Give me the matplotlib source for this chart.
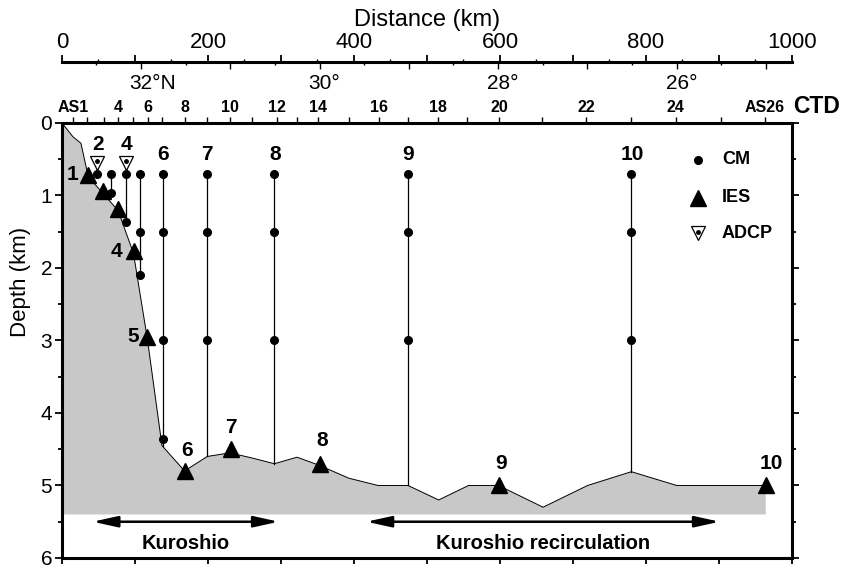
import matplotlib
matplotlib.use("Agg")
import matplotlib.pyplot as plt
import matplotlib.transforms as mtransforms
from matplotlib.ticker import FixedLocator, FuncFormatter, MultipleLocator, NullFormatter

plt.rcParams["font.family"] = ["Liberation Sans", "DejaVu Sans"]

# bottom profile along the section: distance (km), depth (km)
bathy_km = [0, 15, 26, 36, 56, 77, 98, 117, 137, 168, 199, 230, 260, 291, 322,
            352, 393, 433, 474, 516, 557, 598, 659, 720, 780, 842, 903, 964]
bathy_depth = [0.0, 0.19, 0.28, 0.74, 0.97, 1.21, 1.80, 2.98, 4.45, 4.80, 4.60,
               4.55, 4.62, 4.70, 4.61, 4.72, 4.90, 5.00, 5.00, 5.20, 5.00, 5.00,
               5.30, 5.00, 4.81, 5.00, 5.00, 5.00]

# CTD stations AS1..AS26
ctd_km = [15, 34, 57, 77, 97, 118, 137, 168, 199, 230, 260, 294, 322, 351, 393,
          434, 474, 515, 555, 599, 658, 718, 779, 841, 903, 963]
ctd_labels = ["AS1", "", "", "4", "", "6", "", "8", "", "10", "", "12", "", "14",
              "", "16", "", "18", "", "20", "", "22", "", "24", "", "AS26"]

# inverted echo sounders
ies_km = [36, 56, 77, 98, 117, 168, 231, 354, 598, 964]
ies_depth = [0.72, 0.94, 1.18, 1.77, 2.95, 4.80, 4.50, 4.70, 5.00, 5.00]

# current-meter moorings
cm_km = [48, 67, 88, 107, 138, 199, 291, 474, 780]
cm_depths = [[0.71], [0.71, 0.96], [0.71, 1.37], [0.71, 1.51, 2.10],
             [0.71, 1.51, 3.00, 4.36], [0.71, 1.51, 3.00], [0.71, 1.51, 3.00],
             [0.71, 1.51, 3.00], [0.71, 1.51, 3.00]]
mooring_top = [0.55, 0.71, 0.55, 0.71, 0.71, 0.71, 0.71, 0.71, 0.71]
mooring_bottom = [0.71, 0.96, 1.37, 2.10, 4.45, 4.60, 4.70, 5.00, 4.81]

adcp_km = [48, 88]
adcp_depth = [0.55, 0.55]

# site numbers: (label, km, depth)
site_labels = [("2", 49, 0.30), ("4", 89, 0.30), ("6", 139, 0.44), ("7", 199, 0.44),
               ("8", 292, 0.44), ("9", 474, 0.44), ("10", 781, 0.44),
               ("1", 15, 0.71), ("4", 75, 1.77), ("5", 97, 2.95),
               ("6", 172, 4.52), ("7", 231, 4.20), ("8", 356, 4.38),
               ("9", 601, 4.70), ("10", 971, 4.70)]

lat_major = [32, 31, 30, 29, 28, 27, 26, 25]
lat_minor = [32.5, 31.5, 30.5, 29.5, 28.5, 27.5, 26.5, 25.5]
lat_labels = {32: "32°N", 30: "30°", 28: "28°", 26: "26°"}


def lat_to_km(lat):
    return 108.2 + (32.0 - lat) * 122.3


fig = plt.figure(figsize=(8.43, 5.70), dpi=100)
ax = fig.add_axes([0.0735, 0.0211, 0.866, 0.7632])
ax.set_xlim(0, 1000)
ax.set_ylim(6, 0)

# sea floor
poly_x = bathy_km + [bathy_km[-1], 0]
poly_y = bathy_depth + [5.4, 5.4]
ax.fill(poly_x, poly_y, color="#c8c8c8", lw=0, zorder=1)
ax.plot(bathy_km, bathy_depth, color="black", lw=0.7, zorder=2)

# moorings
for km, top, bot, depths in zip(cm_km, mooring_top, mooring_bottom, cm_depths):
    ax.plot([km, km], [top, bot], color="black", lw=0.9, zorder=3)
    ax.plot([km] * len(depths), depths, "o", color="black", ms=5.5, zorder=4)

ax.plot(adcp_km, adcp_depth, "v", mfc="white", mec="black", mew=0.9, ms=10, zorder=5)
ax.plot(adcp_km, [d - 0.02 for d in adcp_depth], "o", color="black", ms=2.5, zorder=6)
ax.plot(ies_km, ies_depth, "^", color="black", ms=11.5, zorder=5)

for text, km, d in site_labels:
    ax.text(km, d, text, fontsize=15, fontweight="bold", ha="center", va="center",
            zorder=7)

# legend
ax.plot([871], [0.51], "o", color="black", ms=5.5)
ax.plot([871], [1.03], "^", color="black", ms=11.5)
ax.plot([871], [1.52], "v", mfc="white", mec="black", mew=0.9, ms=10)
ax.plot([871], [1.50], "o", color="black", ms=2.5)
for d, text in zip([0.51, 1.03, 1.52], ["CM", "IES", "ADCP"]):
    ax.text(904, d, text, fontsize=13, fontweight="bold", ha="left", va="center")

# current regimes
arrow = dict(arrowstyle="<|-|>,head_length=1.0,head_width=0.22", color="black",
             lw=1.8, shrinkA=0, shrinkB=0, mutation_scale=15)
ax.annotate("", xy=(297, 5.5), xytext=(42, 5.5), arrowprops=arrow)
ax.annotate("", xy=(901, 5.5), xytext=(417, 5.5), arrowprops=arrow)
ax.text(169, 5.8, "Kuroshio", fontsize=14.5, fontweight="bold", ha="center", va="center")
ax.text(659, 5.8, "Kuroshio recirculation", fontsize=14.5, fontweight="bold",
        ha="center", va="center")

# depth axis
ax.yaxis.set_major_locator(MultipleLocator(1))
ax.yaxis.set_minor_locator(MultipleLocator(0.5))
ax.tick_params(axis="y", which="both", direction="out", left=True, right=True,
               labelsize=15, width=1.3, pad=2)
ax.tick_params(axis="y", which="major", length=5)
ax.tick_params(axis="y", which="minor", length=3)
ax.set_ylabel("Depth (km)", fontsize=16)
ax.yaxis.set_label_coords(-0.043, 0.634)
ax.xaxis.set_major_locator(MultipleLocator(100))
ax.xaxis.set_major_formatter(NullFormatter())
ax.tick_params(axis="x", which="major", direction="out", length=4.5, width=1.3,
               top=False, bottom=True)
for s in ax.spines.values():
    s.set_linewidth(2.2)

# CTD station axis on the top spine
ax_c = ax.twiny()
ax_c.set_xlim(0, 1000)
for s in ax_c.spines.values():
    s.set_visible(False)
ax_c.xaxis.set_major_locator(FixedLocator(ctd_km))
ax_c.set_xticklabels(ctd_labels, fontsize=11.5, fontweight="bold")
ax_c.tick_params(axis="x", direction="out", length=4, width=1.0, pad=1.5)
ax.text(1.002, 1.0368, "CTD", transform=ax.transAxes, fontsize=16.5,
        fontweight="bold", ha="left", va="center")

# distance axis
axis_y = 1.140
ax_d = ax.twiny()
ax_d.set_xlim(0, 1000)
for name, s in ax_d.spines.items():
    s.set_visible(name == "top")
ax_d.spines["top"].set_position(("axes", axis_y))
ax_d.spines["top"].set_linewidth(2.2)
ax_d.xaxis.set_major_locator(MultipleLocator(100))
ax_d.xaxis.set_minor_locator(MultipleLocator(50))
ax_d.xaxis.set_major_formatter(
    FuncFormatter(lambda v, p: f"{v:.0f}" if round(v) % 200 == 0 else ""))
ax_d.tick_params(axis="x", which="major", direction="out", length=5, width=1.3,
                 labelsize=16, pad=1.5)
ax_d.tick_params(axis="x", which="minor", direction="out", length=2.5, width=1.0)
ax_d.set_xlabel("Distance (km)", fontsize=17, labelpad=4)

# latitude ticks below the distance axis
ax_l = ax.twiny()
ax_l.set_xlim(0, 1000)
for s in ax_l.spines.values():
    s.set_visible(False)
ax_l.xaxis.set_ticks_position("bottom")
ax_l.spines["bottom"].set_position(("axes", axis_y))
ax_l.xaxis.set_major_locator(FixedLocator([lat_to_km(v) for v in lat_major]))
ax_l.xaxis.set_minor_locator(FixedLocator([lat_to_km(v) for v in lat_minor]))
ax_l.xaxis.set_major_formatter(NullFormatter())
ax_l.tick_params(axis="x", which="major", direction="out", length=5, width=1.0)
ax_l.tick_params(axis="x", which="minor", direction="out", length=2.5, width=1.0)
blend = mtransforms.blended_transform_factory(ax.transData, ax.transAxes)
for lat, text in lat_labels.items():
    shift = 12 if text.endswith("N") else 5
    ax.annotate(text, xy=(lat_to_km(lat), 1.0897), xycoords=blend,
                xytext=(shift, 0), textcoords="offset pixels",
                fontsize=15, ha="center", va="center")

fig.savefig("out.png", dpi=100)
